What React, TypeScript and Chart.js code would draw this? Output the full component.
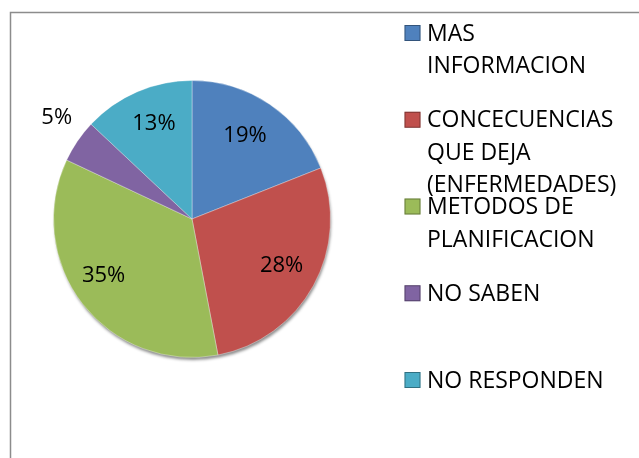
import React, { useEffect, useRef } from "react";
import { Chart, registerables } from "chart.js";
Chart.register(...registerables);

const categories = [
  "MAS INFORMACION",
  "CONCECUENCIAS QUE DEJA (ENFERMEDADES)",
  "METODOS DE PLANIFICACION",
  "NO SABEN",
  "NO RESPONDEN",
];
const legendLines = [
  ["MAS", "INFORMACION"],
  ["CONCECUENCIAS", "QUE DEJA", "(ENFERMEDADES)"],
  ["METODOS DE", "PLANIFICACION"],
  ["NO SABEN"],
  ["NO RESPONDEN"],
];
const values = [19, 28, 35, 5, 13];
const percentLabels = ["19%", "28%", "35%", "5%", "13%"];
const colors = ["#4F81BD", "#C0504D", "#9BBB59", "#8064A2", "#4BACC6"];

const FONT = "'Open Sans', sans-serif";
const labelRadius = [0.71, 0.73, 0.76, 1.22, 0.74];
const labelAngleOffsetDeg = [-1.6, -1.2, 4.9, 2.6, 1.6];

const framePlugin = {
  id: "frame",
  beforeDraw(chart: any) {
    const ctx = chart.ctx;
    ctx.save();
    ctx.fillStyle = "#ffffff";
    ctx.fillRect(0, 0, chart.width, chart.height);
    ctx.strokeStyle = "#8c8c8c";
    ctx.lineWidth = 1.5;
    ctx.beginPath();
    ctx.moveTo(10.5, chart.height + 5);
    ctx.lineTo(10.5, 12.5);
    ctx.lineTo(chart.width + 5, 12.5);
    ctx.stroke();
    ctx.restore();
  },
};

const shadowPlugin = {
  id: "pieShadow",
  beforeDatasetsDraw(chart: any) {
    const meta = chart.getDatasetMeta(0);
    const el = meta.data[0];
    if (!el) return;
    const { x, y, outerRadius } = el.getProps(["x", "y", "outerRadius"], true);
    const ctx = chart.ctx;
    ctx.save();
    ctx.shadowColor = "rgba(0,0,0,0.45)";
    ctx.shadowBlur = 3;
    ctx.shadowOffsetY = 3;
    ctx.shadowOffsetX = 1;
    ctx.fillStyle = "#777";
    ctx.beginPath();
    ctx.arc(x, y, outerRadius - 0.5, 0, Math.PI * 2);
    ctx.fill();
    ctx.restore();
  },
};

const labelPlugin = {
  id: "pctLabels",
  afterDatasetsDraw(chart: any) {
    const meta = chart.getDatasetMeta(0);
    const ctx = chart.ctx;
    ctx.save();
    ctx.font = `22px ${FONT}`;
    ctx.fillStyle = "#000";
    ctx.textAlign = "center";
    ctx.textBaseline = "middle";
    meta.data.forEach((el: any, i: number) => {
      const { x, y, startAngle, endAngle, outerRadius } = el.getProps(
        ["x", "y", "startAngle", "endAngle", "outerRadius"],
        true
      );
      const mid = (startAngle + endAngle) / 2 + (labelAngleOffsetDeg[i] * Math.PI) / 180;
      const r = outerRadius * labelRadius[i];
      ctx.fillText(percentLabels[i], x + Math.cos(mid) * r, y + Math.sin(mid) * r);
    });
    ctx.restore();
  },
};

const legendPlugin = {
  id: "sideLegend",
  afterDraw(chart: any) {
    const ctx = chart.ctx;
    ctx.save();
    const boxX = 404.5;
    const box = 16;
    const textX = 427;
    const firstY = 33;
    const itemGap = 86.75;
    const lineH = 32.5;
    ctx.font = `23px ${FONT}`;
    ctx.textBaseline = "middle";
    ctx.textAlign = "left";
    legendLines.forEach((lines, i) => {
      const cy = firstY + i * itemGap;
      ctx.fillStyle = colors[i];
      ctx.fillRect(boxX, cy - box / 2, box, box);
      ctx.strokeStyle = "rgba(0,0,0,0.35)";
      ctx.lineWidth = 1;
      ctx.strokeRect(boxX + 0.5, cy - box / 2 + 0.5, box - 1, box - 1);
      ctx.fillStyle = "#000";
      lines.forEach((t, j) => {
        ctx.fillText(t, textX, cy + j * lineH + 1);
      });
    });
    ctx.restore();
  },
};

export default function App() {
  const ref = useRef<HTMLCanvasElement>(null);
  useEffect(() => {
    if (!ref.current) return;
    const chart = new Chart(ref.current, {
      type: "pie",
      data: {
        labels: categories,
        datasets: [
          {
            data: values,
            backgroundColor: colors,
            borderColor: "rgba(255,255,255,0.35)",
            borderWidth: 1,
          },
        ],
      },
      options: {
        animation: false,
        responsive: true,
        maintainAspectRatio: false,
        layout: { padding: { left: 53, right: 308, top: 80, bottom: 100 } },
        plugins: {
          legend: { display: false },
          tooltip: { enabled: false },
        },
      },
      plugins: [framePlugin, shadowPlugin, labelPlugin, legendPlugin],
    });
    return () => chart.destroy();
  }, []);
  return (
    <div style={{ position: "absolute", left: 0, top: 0, width: 639, height: 458 }}>
      <canvas ref={ref} />
    </div>
  );
}
